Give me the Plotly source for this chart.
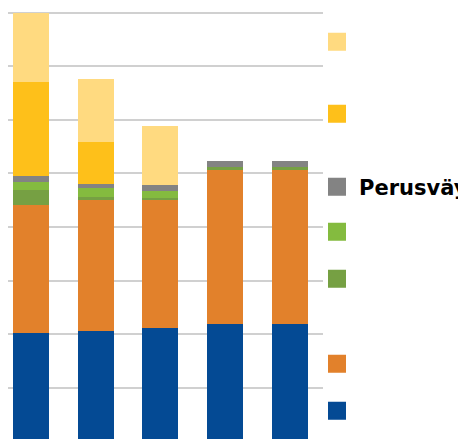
import plotly.graph_objects as go

# Data (units: one gridline step = 10)
categories = ["1", "2", "3", "4", "5"]
blue = [20.2, 20.6, 21.2, 21.9, 21.9]
orange = [23.9, 24.5, 23.9, 28.7, 28.7]
dark_green = [2.8, 0.6, 0.4, 0.6, 0.6]
light_green = [1.5, 1.5, 1.3, 0, 0]
gray = [1.1, 0.9, 1.1, 1.1, 1.1]
yellow = [17.5, 7.7, 0, 0, 0]
light_yellow = [12.9, 11.8, 11.0, 0, 0]

series = [
    ("", blue, "#044A94", "legend7", 0.082),
    ("", orange, "#E2812B", "legend6", 0.1891),
    ("", dark_green, "#76A043", "legend5", 0.3827),
    ("", light_green, "#84BB3F", "legend4", 0.4897),
    ("Perusväylä", gray, "#838383", "legend3", 0.5923),
    ("", yellow, "#FEC01A", "legend2", 0.7585),
    ("", light_yellow, "#FFDA80", "legend", 0.9226),
]

fig = go.Figure()
legend_layouts = {}
for name, vals, color, leg, ypos in series:
    fig.add_trace(go.Bar(x=categories, y=vals, name=name if name else " ",
                         marker=dict(color=color, line=dict(width=0)),
                         showlegend=False, legendgroup=leg))
    fig.add_trace(go.Scatter(x=[None], y=[None], mode="markers", name=name if name else " ",
                             marker=dict(symbol="square", size=16, color=color,
                                         line=dict(width=2, color=color)),
                             legend=leg, legendgroup=leg, showlegend=True, hoverinfo="skip"))
    legend_layouts[leg] = dict(x=0.9746, y=ypos, xanchor="left", yanchor="middle",
                               bgcolor="rgba(0,0,0,0)", borderwidth=0, itemwidth=34,
                               font=dict(family="DejaVu Sans", size=21, color="#000000",
                                         weight="bold"))

fig.update_layout(
    width=466, height=439,
    margin=dict(l=0, r=151, t=0, b=0, autoexpand=False),
    paper_bgcolor="white", plot_bgcolor="white",
    barmode="stack", bargap=0.444,
    xaxis=dict(type="category", range=[-0.355, 4.51], showticklabels=False,
               showgrid=False, zeroline=False, showline=False, ticks=""),
    yaxis=dict(range=[-1.06, 80.89], dtick=10, tick0=0, showticklabels=False,
               showgrid=True, gridcolor="#D0D0D0", gridwidth=2,
               zeroline=False, showline=False, ticks=""),
    **legend_layouts,
)

fig.write_html("out.html")
